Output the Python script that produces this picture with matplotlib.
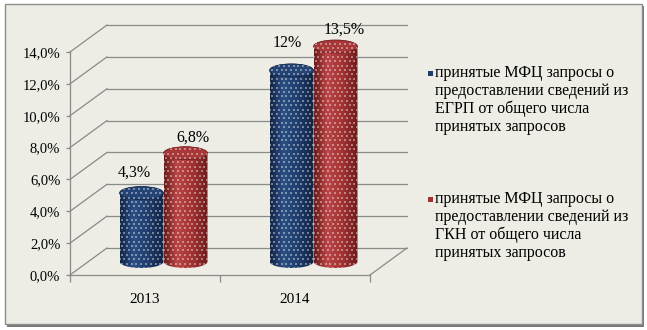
import numpy as np
import matplotlib
matplotlib.use("Agg")
import matplotlib.pyplot as plt
from matplotlib.patches import Polygon, Ellipse, Rectangle
from matplotlib.colors import LinearSegmentedColormap

# ---- data -------------------------------------------------------------
years = ["2013", "2014"]
egrp_share = [4.3, 12.0]      # % of accepted requests, ЕГРП
gkn_share = [6.8, 13.5]       # % of accepted requests, ГКН
egrp_labels = ["4,3%", "12%"]
gkn_labels = ["6,8%", "13,5%"]
y_ticks = [0, 2, 4, 6, 8, 10, 12, 14]
y_tick_labels = ["0,0%", "2,0%", "4,0%", "6,0%", "8,0%", "10,0%", "12,0%", "14,0%"]
legend_texts = [
    "принятые МФЦ запросы о\nпредоставлении сведений из\nЕГРП от общего числа\nпринятых запросов",
    "принятые МФЦ запросы о\nпредоставлении сведений из\nГКН от общего числа\nпринятых запросов",
]

# ---- style ------------------------------------------------------------
plt.rcParams["font.family"] = ["Liberation Serif", "DejaVu Serif"]
BG = "#EDEDE5"
GRID = "#8a8a8a"
blue_grad = ["#122545", "#2c4f86", "#1f3d6b", "#112241"]
red_grad = ["#6a1a1a", "#bb4646", "#a23232", "#6c1c1c"]
blue_top = "#234474"
red_top = "#a83838"

W, H = 647, 330
fig = plt.figure(figsize=(W / 100, H / 100), dpi=100)
fig.patch.set_facecolor("white")

# framed chart area with a soft shadow on the right and bottom
fig.patches.append(Rectangle((7 / W, 3 / H), 637 / W, 321 / H, transform=fig.transFigure,
                             facecolor="#7a7a7a", edgecolor="none", zorder=-2))
fig.patches.append(Rectangle((5 / W, 6 / H), 637 / W, 320 / H, transform=fig.transFigure,
                             facecolor=BG, edgecolor="#8c8c8c", linewidth=1.0, zorder=-1))

# axes: front plane spans x in [0, 2] (two categories), y in [0, 14] %
px_per_cat = 150.0
px_per_pct = 223.0 / 14.0
ax_left, ax_bottom_px = 70, 275
ax_w_px, ax_h_px = 340, 255
ax = fig.add_axes([ax_left / W, (H - ax_bottom_px) / H, ax_w_px / W, ax_h_px / H])
ax.set_facecolor("none")
xmax = ax_w_px / px_per_cat
ymax = ax_h_px / px_per_pct

# oblique depth offset of the back wall
dx = 37.0 / px_per_cat
dy = 27.0 / px_per_pct

# walls and floor
for v in y_ticks:
    ax.plot([0, dx], [v, v + dy], color=GRID, lw=0.9, zorder=1, clip_on=False)
    ax.plot([dx, 2 + dx], [v + dy, v + dy], color=GRID, lw=0.9, zorder=1, clip_on=False)
ax.plot([2, 2 + dx], [0, dy], color=GRID, lw=0.9, zorder=1, clip_on=False)

ax.spines[["top", "right"]].set_visible(False)
ax.spines["left"].set_bounds(0, 14)
ax.spines["bottom"].set_bounds(0, 2)
for s in ("left", "bottom"):
    ax.spines[s].set_color(GRID)
    ax.spines[s].set_linewidth(0.9)

ax.set_yticks(y_ticks)
ax.set_yticklabels(y_tick_labels, fontsize=10.5)
ax.tick_params(axis="y", length=3, width=0.9, color=GRID, pad=4)
ax.set_xticks([0, 1, 2])
ax.set_xticklabels([])
ax.tick_params(axis="x", which="major", length=5, width=0.9, color=GRID)
ax.set_xticks([0.5, 1.5], minor=True)
ax.set_xticklabels(years, minor=True, fontsize=11)
ax.tick_params(axis="x", which="minor", length=0, pad=13)

# ---- cylinders --------------------------------------------------------
bar_w = 44.0 / px_per_cat
ell = 6.5 / px_per_pct


def cylinder(xc, value, grad, top_color):
    xl, xr = xc - bar_w / 2, xc + bar_w / 2
    y0 = dy / 2
    y1 = value + dy / 2
    th_b = np.linspace(np.pi, 2 * np.pi, 60)
    th_t = np.linspace(0, np.pi, 60)
    pts = np.vstack([
        np.column_stack([xc + bar_w / 2 * np.cos(th_b), y0 + ell * np.sin(th_b)]),
        np.column_stack([xc + bar_w / 2 * np.cos(th_t), y1 + ell * np.sin(th_t)]),
    ])
    body = Polygon(pts, closed=True, facecolor="none", edgecolor="none", zorder=3)
    ax.add_patch(body)
    cmap = LinearSegmentedColormap.from_list("g", list(zip([0, 0.3, 0.65, 1], grad)))
    grad_img = np.linspace(0, 1, 200).reshape(1, -1)
    im = ax.imshow(grad_img, cmap=cmap, aspect="auto", interpolation="bilinear",
                   extent=[xl, xr, y0 - ell, y1 + ell], zorder=3, clip_on=True)
    im.set_clip_path(body)

    top = Ellipse((xc, y1), bar_w, 2 * ell, facecolor=top_color,
                  edgecolor=grad[0], linewidth=0.5, zorder=4)
    ax.add_patch(top)

    # fine white dot texture
    sx = 4.8 / px_per_cat
    sy = 4.4 / px_per_pct
    rows = np.arange(y0 - ell, y1 + ell, sy)
    xs, ys = [], []
    for i, yy in enumerate(rows):
        cols = np.arange(xl + (sx / 2 if i % 2 else 0), xr, sx)
        xs.extend(cols)
        ys.extend([yy] * len(cols))
    d1 = ax.scatter(xs, ys, s=0.7, marker="s", color="white", alpha=0.4,
                    linewidths=0, zorder=5)
    d1.set_clip_path(body)
    return y1


group_off = bar_w / 2
for i in range(len(years)):
    cx = i + 0.5 + dx / 2
    cylinder(cx - group_off, egrp_share[i], blue_grad, blue_top)
    cylinder(cx + group_off, gkn_share[i], red_grad, red_top)

# value labels above the cylinders
egrp_lab_off = [(-0.05, 2.1), (-0.03, 2.55)]
gkn_lab_off = [(0.05, 1.85), (0.06, 1.9)]
for i in range(len(years)):
    cx = i + 0.5 + dx / 2
    ox, oy = egrp_lab_off[i]
    ax.text(cx - group_off + ox, egrp_share[i] + oy, egrp_labels[i], ha="center",
            va="center", fontsize=11.5, zorder=6)
    ox, oy = gkn_lab_off[i]
    ax.text(cx + group_off + ox, gkn_share[i] + oy, gkn_labels[i], ha="center",
            va="center", fontsize=11.5, zorder=6)

ax.set_xlim(0, xmax)
ax.set_ylim(0, ymax)

# ---- legend -----------------------------------------------------------
leg_colors = ["#1f3d6b", "#a23232"]
leg_top_px = [65, 191]
for txt, c, ytop in zip(legend_texts, leg_colors, leg_top_px):
    fig.patches.append(Rectangle((428 / W, (H - ytop - 11) / H), 5 / W, 5 / H,
                                 transform=fig.transFigure, facecolor=c,
                                 edgecolor="none", zorder=2))
    fig.text(435 / W, (H - ytop) / H, txt, ha="left", va="top", fontsize=11.5,
             linespacing=1.15)

fig.savefig("out.png", dpi=100, facecolor=fig.get_facecolor())
